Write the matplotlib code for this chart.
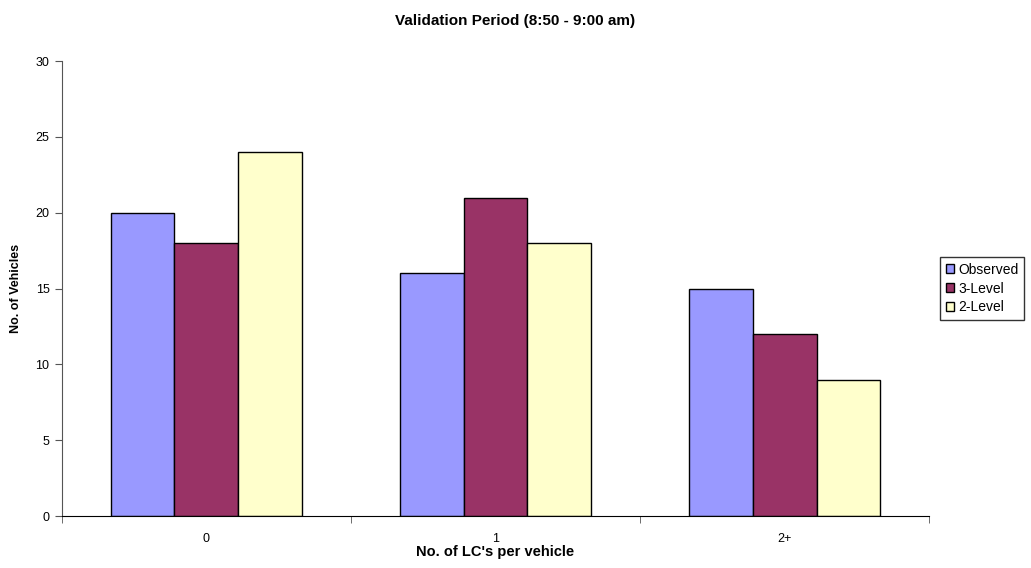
import matplotlib.pyplot as plt
import numpy as np

plt.rcParams["font.family"] = ["Liberation Sans", "DejaVu Sans"]

categories = ["0", "1", "2+"]
observed = [20, 16, 15]
level3 = [18, 21, 12]
level2 = [24, 18, 9]

series = [
    ("Observed", observed, "#9999FF"),
    ("3-Level", level3, "#993366"),
    ("2-Level", level2, "#FFFFCC"),
]

fig = plt.figure(figsize=(10.31, 5.68), dpi=100)
ax = fig.add_axes([0.0601, 0.0915, 0.8410, 0.8011])

x = np.arange(len(categories))
w = 0.664 / 3
for i, (name, vals, col) in enumerate(series):
    ax.bar(x + (i - 1) * w, vals, w, color=col, edgecolor="black", linewidth=1.0, label=name)

ax.set_xlim(-0.5, len(categories) - 0.5)
ax.set_ylim(0, 30)
ax.set_yticks(range(0, 31, 5))
ax.set_xticks(x)
ax.set_xticklabels(categories)
ax.set_xticks(np.arange(-0.5, len(categories)), minor=True)
ax.tick_params(axis="x", which="major", length=0, labelsize=9, pad=12)
ax.tick_params(axis="x", which="minor", length=5, direction="out", color="#555555")
ax.tick_params(axis="y", length=5, direction="out", labelsize=9, color="#555555", pad=4)

for s in ["top", "right"]:
    ax.spines[s].set_visible(False)
ax.spines["left"].set_color("#555555")
ax.spines["bottom"].set_color("black")

ax.set_xlabel("No. of LC's per vehicle", fontsize=10.5, fontweight="bold", labelpad=0)
ax.set_ylabel("No. of Vehicles", fontsize=9, fontweight="bold", labelpad=10)
fig.suptitle("Validation Period (8:50 - 9:00 am)", fontsize=11, fontweight="bold", y=0.975)

ax.legend(loc="center left", bbox_to_anchor=(1.0127, 0.5), fontsize=10, frameon=True,
          fancybox=False, edgecolor="black", handlelength=0.6, handleheight=0.6,
          handletextpad=0.3, borderpad=0.4, labelspacing=0.35, borderaxespad=0)

fig.savefig("out.png", dpi=100)
